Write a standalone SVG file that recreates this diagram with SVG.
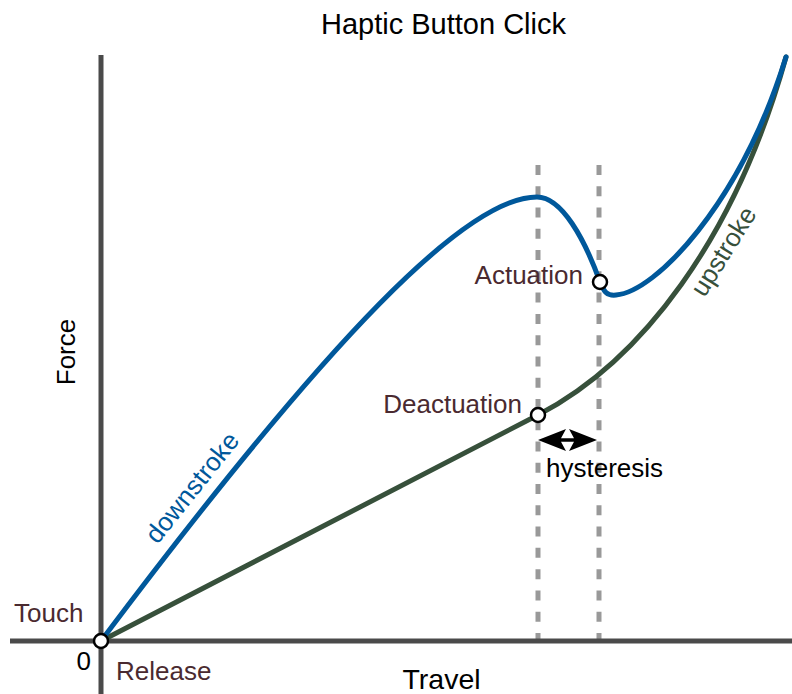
<svg xmlns="http://www.w3.org/2000/svg" width="792" height="694" viewBox="0 0 792 694">
<style>
text{font-family:"Liberation Sans",Arial,sans-serif;}
.axis{stroke:#4a4a4a;stroke-width:5;fill:none;}
.dash{stroke:#999;stroke-width:5;stroke-dasharray:10 11.27;fill:none;}
.curve{fill:none;stroke-width:5;stroke-linecap:round;stroke-linejoin:round;}
.down{stroke:#00589b;}
.up{stroke:#37503b;}
.pt{fill:#fff;stroke:#000;stroke-width:2.5;}
.lbl{fill:#4a2a30;font-size:26px;}
.blk{fill:#000;}
</style>
<text x="443.5" y="34" text-anchor="middle" class="blk" style="font-size:29px">Haptic Button Click</text>
<g id="axes">
<line class="dash" x1="538" y1="165" x2="538" y2="641"/>
<line class="dash" x1="599" y1="165" x2="599" y2="641"/>
<line class="axis" x1="101" y1="55" x2="101" y2="694"/>
<line class="axis" x1="10" y1="641" x2="792" y2="641"/>
<text x="441.5" y="689" text-anchor="middle" class="blk" style="font-size:28.5px">Travel</text>
<text transform="translate(75,352) rotate(-90)" text-anchor="middle" class="blk" style="font-size:26px">Force</text>
<text x="91" y="670" text-anchor="end" class="blk" style="font-size:26px">0</text>
</g>
<g id="connectors">
<path class="curve up" d="M101,641 L538,415 C640,362 735,240 786,57"/>
<path class="curve down" d="M101,641 C331,335 467,197 537,197 C562,197 585,240 600,282 C604,292 607,296 616,295 C655,292 740,205 786,57"/>
<path d="M538,440 L566,429 L561,438.3 L574,438.3 L569,429 L597,440 L569,451 L574,441.7 L561,441.7 L566,451 Z" fill="#000"/>
</g>
<g id="labels">
<text transform="translate(199,493) rotate(-51.5)" text-anchor="middle" style="fill:#00589b;font-size:26px">downstroke</text>
<text transform="translate(731,256) rotate(-58)" text-anchor="middle" style="fill:#37503b;font-size:26px">upstroke</text>
<text x="546" y="477" class="blk" style="font-size:26px">hysteresis</text>
</g>
<g id="origin">
<circle class="pt" cx="101" cy="641" r="7"/>
<text x="14" y="622" class="lbl">Touch</text>
<text x="116" y="680" class="lbl">Release</text>
</g>
<g id="actuation">
<circle class="pt" cx="600" cy="282" r="7"/>
<text x="583" y="284" text-anchor="end" class="lbl">Actuation</text>
</g>
<g id="deactuation">
<circle class="pt" cx="538" cy="415" r="7"/>
<text x="522" y="413" text-anchor="end" class="lbl">Deactuation</text>
</g>
</svg>
